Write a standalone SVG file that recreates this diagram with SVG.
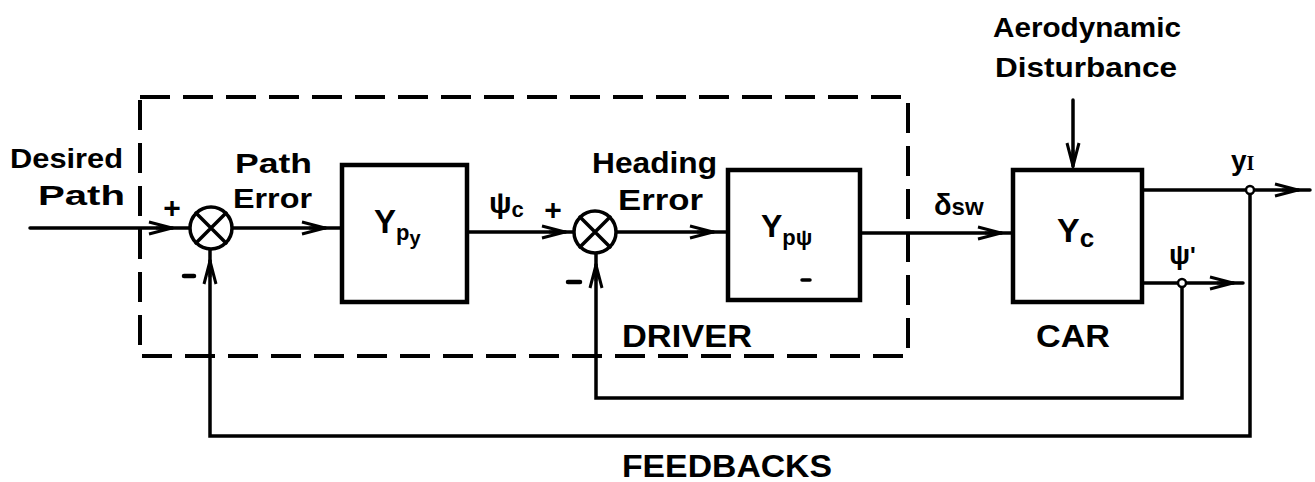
<svg xmlns="http://www.w3.org/2000/svg" width="1315" height="482" viewBox="0 0 1315 482">
<style>
.ln{fill:none;stroke:#000;stroke-width:3.5;stroke-linejoin:miter;stroke-linecap:round}
.bx{fill:#fff;stroke:#000;stroke-width:4.5}
.dash{fill:none;stroke:#000;stroke-width:4;stroke-dasharray:30 13}
.t{font-family:"Liberation Sans","DejaVu Sans",sans-serif;font-weight:bold;fill:#000}
.sj{fill:#fff;stroke:#000;stroke-width:3.5}
.dot{fill:#fff;stroke:#000;stroke-width:2.5}
.minus{stroke:#000;stroke-width:4.5;stroke-linecap:round}
</style>
<defs>
<marker id="arr" markerUnits="userSpaceOnUse" markerWidth="30" markerHeight="16" refX="26" refY="8" orient="auto" overflow="visible">
<path d="M3,2 L26,8 L3,14 M10,8 L26,8" fill="none" stroke="#000" stroke-width="3"/>
</marker>
</defs>
<rect width="1315" height="482" fill="#fff"/>

<g id="driver-boundary">
<rect class="dash" x="140" y="97" width="768" height="259"/>
<text class="t" x="622" y="347" font-size="32" textLength="130" lengthAdjust="spacingAndGlyphs">DRIVER</text>
</g>

<g id="connectors">
<path class="ln" d="M30,228 H172" marker-end="url(#arr)"/>
<path class="ln" d="M172,228 H190"/>
<path class="ln" d="M232,228 H325" marker-end="url(#arr)"/>
<path class="ln" d="M325,228 H342"/>
<path class="ln" d="M467,232 H565" marker-end="url(#arr)"/>
<path class="ln" d="M565,232 H574"/>
<path class="ln" d="M616,232 H713" marker-end="url(#arr)"/>
<path class="ln" d="M713,232 H728"/>
<path class="ln" d="M860,233 H1001" marker-end="url(#arr)"/>
<path class="ln" d="M1001,233 H1013"/>
<path class="ln" d="M1073,100 V166" marker-end="url(#arr)"/>
<path class="ln" d="M1142,190 H1298" marker-end="url(#arr)"/>
<path class="ln" d="M1298,190 H1310"/>
<path class="ln" d="M1142,283 H1233" marker-end="url(#arr)"/>
<path class="ln" d="M1233,283 H1243"/>
<path class="ln" d="M1182,283 V398 H596 V265" marker-end="url(#arr)"/>
<path class="ln" d="M596,265 V253"/>
<path class="ln" d="M1250,190 V436 H210 V261" marker-end="url(#arr)"/>
<path class="ln" d="M210,261 V249"/>
<circle class="dot" cx="1250" cy="190" r="4"/>
<circle class="dot" cx="1182" cy="283" r="4"/>
</g>

<g id="input-label">
<text class="t" x="10" y="168" font-size="28" textLength="113" lengthAdjust="spacingAndGlyphs">Desired</text>
<text class="t" x="38" y="205" font-size="28" textLength="87" lengthAdjust="spacingAndGlyphs">Path</text>
</g>

<g id="sum1">
<circle class="sj" cx="211" cy="228" r="21"/>
<path class="ln" d="M196,213 L226,243 M226,213 L196,243" stroke-width="3"/>
<text class="t" x="172" y="218" font-size="30" text-anchor="middle">+</text>
<line class="minus" x1="184" y1="276" x2="194" y2="276"/>
</g>

<g id="path-error-label">
<text class="t" x="235" y="173" font-size="28" textLength="77" lengthAdjust="spacingAndGlyphs">Path</text>
<text class="t" x="233" y="208" font-size="28" textLength="79" lengthAdjust="spacingAndGlyphs">Error</text>
</g>

<g id="Ypy">
<rect class="bx" x="342" y="165" width="125" height="137"/>
<text class="t" x="374" y="233" font-size="33">Y<tspan font-size="22" dy="7">p</tspan><tspan font-size="20" dy="5">y</tspan></text>
</g>

<g id="psi-c-label">
<text class="t" x="489" y="213" font-size="30">ψ<tspan font-size="22" dy="4">c</tspan></text>
</g>

<g id="sum2">
<circle class="sj" cx="595" cy="232" r="21"/>
<path class="ln" d="M580,217 L610,247 M610,217 L580,247" stroke-width="3"/>
<text class="t" x="553" y="220" font-size="30" text-anchor="middle">+</text>
<line class="minus" x1="568" y1="282" x2="580" y2="282"/>
</g>

<g id="heading-error-label">
<text class="t" x="592" y="173" font-size="29" textLength="125" lengthAdjust="spacingAndGlyphs">Heading</text>
<text class="t" x="618" y="210" font-size="29" textLength="85" lengthAdjust="spacingAndGlyphs">Error</text>
</g>

<g id="Yppsi">
<rect class="bx" x="728" y="170" width="132" height="130"/>
<text class="t" x="761" y="237" font-size="32">Y<tspan font-size="22" dy="8">pψ</tspan></text>
<path class="ln" d="M802,280 H810" stroke-width="3"/>
</g>

<g id="delta-sw-label">
<text class="t" x="934" y="215" font-size="29">δ<tspan font-size="24">sw</tspan></text>
</g>

<g id="disturbance-label">
<text class="t" x="993" y="37" font-size="28" textLength="188" lengthAdjust="spacingAndGlyphs">Aerodynamic</text>
<text class="t" x="995" y="77" font-size="28" textLength="182" lengthAdjust="spacingAndGlyphs">Disturbance</text>
</g>

<g id="Yc">
<rect class="bx" x="1013" y="170" width="129" height="132"/>
<text class="t" x="1057" y="242" font-size="34">Y<tspan font-size="26" dy="5">c</tspan></text>
<text class="t" x="1036" y="347" font-size="32" textLength="74" lengthAdjust="spacingAndGlyphs">CAR</text>
</g>

<g id="outputs">
<text class="t" x="1231" y="170" font-size="28">y<tspan font-family="Liberation Serif" font-size="20">I</tspan></text>
<text class="t" x="1169" y="264" font-size="28">ψ<tspan font-size="24">'</tspan></text>
</g>

<g id="feedbacks-label">
<text class="t" x="622" y="477" font-size="32" textLength="210" lengthAdjust="spacingAndGlyphs">FEEDBACKS</text>
</g>
</svg>
